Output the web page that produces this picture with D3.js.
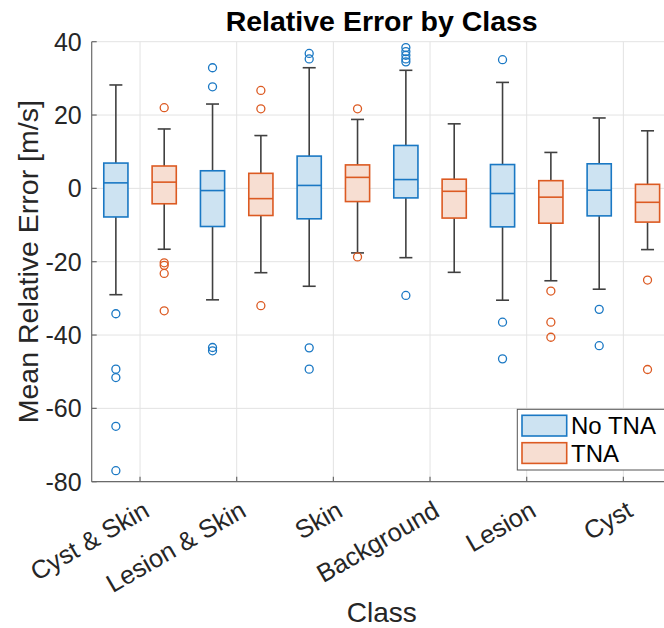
<!DOCTYPE html>
<html>
<head>
<meta charset="utf-8">
<script src="https://cdn.jsdelivr.net/npm/d3@7"></script>
<style>
  html, body { margin: 0; padding: 0; background: #fff; overflow: hidden; }
  svg { display: block; font-family: "Liberation Sans", Arial, Helvetica, sans-serif; }
</style>
</head>
<body>
<svg id="chart" width="664" height="628"></svg>
<script>
// Classes on the x axis
const classes = ["Cyst & Skin", "Lesion & Skin", "Skin", "Background", "Lesion", "Cyst"];
const seriesNames = ["No TNA", "TNA"];

// Box statistics per class: [lower whisker, Q1, median, Q3, upper whisker]
const noTnaStats = [
  [-29.0, -7.8, 1.5, 6.9, 28.2],
  [-30.4, -10.4, -0.6, 4.8, 23.0],
  [-26.7, -8.3, 0.8, 8.8, 32.9],
  [-18.9, -2.6, 2.4, 11.7, 32.2],
  [-30.5, -10.5, -1.4, 6.5, 28.9],
  [-27.5, -7.5, -0.5, 6.7, 19.2]
];
const tnaStats = [
  [-16.6, -4.2, 1.7, 6.1, 16.2],
  [-23.0, -7.4, -2.8, 4.1, 14.4],
  [-17.6, -3.6, 3.0, 6.4, 18.8],
  [-22.9, -8.1, -0.8, 2.5, 17.6],
  [-25.2, -9.5, -2.4, 2.1, 9.8],
  [-16.7, -9.2, -3.8, 1.1, 15.7]
];

// Outliers per class
const noTnaOutliers = [
  [-34.2, -49.3, -51.6, -64.9, -77.0],
  [32.9, 27.7, -43.4, -44.3],
  [36.8, 35.3, -43.5, -49.3],
  [38.4, 37.3, 36.3, 35.3, 34.5, -29.2],
  [35.1, -36.5, -46.5],
  [-33.0, -42.9]
];
const tnaOutliers = [
  [22.0, -20.3, -21.0, -23.2, -33.4],
  [26.7, 21.7, -32.0],
  [21.7, -18.7],
  [],
  [-28.0, -36.5, -40.6],
  [-25.0, -49.4]
];

const yTicks = [-80, -60, -40, -20, 0, 20, 40];

const series = [
  { name: seriesNames[0], stats: noTnaStats, outliers: noTnaOutliers, offset: -0.25,
    stroke: "#1a78c4", fill: "#cde3f2" },
  { name: seriesNames[1], stats: tnaStats, outliers: tnaOutliers, offset: 0.25,
    stroke: "#dc5a22", fill: "#f7ded2" }
];

const svg = d3.select("#chart");
const plot = { left: 91.7, right: 671.7, top: 41.7, bottom: 481.7 };

const x = d3.scaleLinear().domain([0.5, classes.length + 0.5]).range([plot.left, plot.right]);
const y = d3.scaleLinear().domain([-80, 40]).range([plot.bottom, plot.top]);

const boxW = x(1.25) - x(1);   // box width in px
const capW = 13;
const whiskerColor = "#404040";

// Grid
const grid = svg.append("g").attr("stroke", "#e3e3e3").attr("stroke-width", 1);
yTicks.forEach(t => {
  grid.append("line").attr("x1", plot.left).attr("x2", plot.right)
    .attr("y1", y(t)).attr("y2", y(t));
});
classes.forEach((c, i) => {
  grid.append("line").attr("x1", x(i + 1)).attr("x2", x(i + 1))
    .attr("y1", plot.top).attr("y2", plot.bottom);
});

// Boxes
series.forEach(s => {
  const g = svg.append("g");
  s.stats.forEach((st, i) => {
    const cx = x(i + 1 + s.offset);
    const [lo, q1, med, q3, hi] = st;
    // whiskers and caps
    g.append("line").attr("x1", cx).attr("x2", cx).attr("y1", y(q3)).attr("y2", y(hi))
      .attr("stroke", whiskerColor).attr("stroke-width", 1.6);
    g.append("line").attr("x1", cx).attr("x2", cx).attr("y1", y(q1)).attr("y2", y(lo))
      .attr("stroke", whiskerColor).attr("stroke-width", 1.6);
    g.append("line").attr("x1", cx - capW / 2).attr("x2", cx + capW / 2).attr("y1", y(hi)).attr("y2", y(hi))
      .attr("stroke", whiskerColor).attr("stroke-width", 1.6);
    g.append("line").attr("x1", cx - capW / 2).attr("x2", cx + capW / 2).attr("y1", y(lo)).attr("y2", y(lo))
      .attr("stroke", whiskerColor).attr("stroke-width", 1.6);
    // box
    g.append("rect").attr("x", cx - boxW / 2).attr("width", boxW)
      .attr("y", y(q3)).attr("height", y(q1) - y(q3))
      .attr("fill", s.fill).attr("stroke", s.stroke).attr("stroke-width", 1.6);
    // median
    g.append("line").attr("x1", cx - boxW / 2).attr("x2", cx + boxW / 2)
      .attr("y1", y(med)).attr("y2", y(med))
      .attr("stroke", s.stroke).attr("stroke-width", 1.6);
    // outliers
    g.selectAll(null).data(s.outliers[i]).enter().append("circle")
      .attr("cx", cx).attr("cy", d => y(d)).attr("r", 4)
      .attr("fill", "none").attr("stroke", s.stroke).attr("stroke-width", 1.3);
  });
});

// Axes
const axisColor = "#6a6a6a";
svg.append("line").attr("x1", plot.left).attr("x2", plot.left)
  .attr("y1", plot.top).attr("y2", plot.bottom).attr("stroke", axisColor).attr("stroke-width", 1.2);
svg.append("line").attr("x1", plot.left).attr("x2", plot.right)
  .attr("y1", plot.bottom).attr("y2", plot.bottom).attr("stroke", axisColor).attr("stroke-width", 1.2);

yTicks.forEach(t => {
  svg.append("line").attr("x1", plot.left).attr("x2", plot.left + 5)
    .attr("y1", y(t)).attr("y2", y(t)).attr("stroke", axisColor).attr("stroke-width", 1.2);
  svg.append("text").attr("x", plot.left - 10).attr("y", y(t)).attr("dy", "0.36em")
    .attr("text-anchor", "end").attr("font-size", 25).attr("fill", "#262626").text(t);
});

classes.forEach((c, i) => {
  const tx = x(i + 1);
  svg.append("line").attr("x1", tx).attr("x2", tx)
    .attr("y1", plot.bottom).attr("y2", plot.bottom - 5).attr("stroke", axisColor).attr("stroke-width", 1.2);
  svg.append("text")
    .attr("transform", `translate(${tx + 2},${plot.bottom + 18}) rotate(-30)`)
    .attr("x", 0).attr("y", 18)
    .attr("text-anchor", "end").attr("font-size", 25.5).attr("fill", "#262626").text(c);
});

// Titles
svg.append("text").attr("x", (plot.left + plot.right) / 2).attr("y", 31)
  .attr("text-anchor", "middle").attr("font-size", 28.5).attr("font-weight", "bold")
  .attr("fill", "#000").text("Relative Error by Class");
svg.append("text").attr("x", (plot.left + plot.right) / 2).attr("y", 622)
  .attr("text-anchor", "middle").attr("font-size", 28).attr("fill", "#262626").text("Class");
svg.append("text")
  .attr("transform", `translate(38,${(plot.top + plot.bottom) / 2}) rotate(-90)`)
  .attr("text-anchor", "middle").attr("font-size", 28.5).attr("fill", "#262626")
  .text("Mean Relative Error [m/s]");

// Legend
const leg = svg.append("g");
leg.append("rect").attr("x", 517.3).attr("y", 409.3).attr("width", 150).attr("height", 60.7)
  .attr("fill", "#fff").attr("stroke", "#555").attr("stroke-width", 1);
series.forEach((s, i) => {
  const top = 415.3 + i * 27.4;
  leg.append("rect").attr("x", 522).attr("y", top).attr("width", 44.7).attr("height", 20.7)
    .attr("fill", s.fill).attr("stroke", s.stroke).attr("stroke-width", 1.6);
  leg.append("text").attr("x", 571).attr("y", top + 19).attr("font-size", 24)
    .attr("fill", "#000").text(s.name);
});
</script>
</body>
</html>
